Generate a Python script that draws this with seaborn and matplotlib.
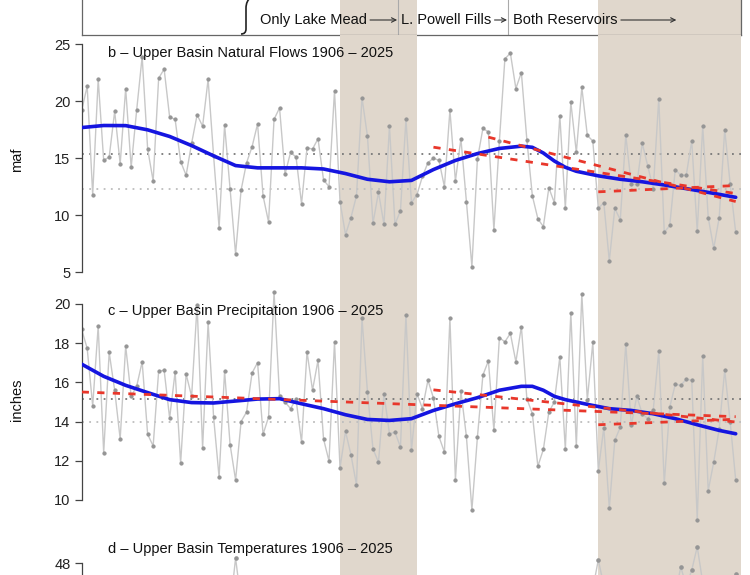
import numpy as np
import pandas as pd
import seaborn as sns
import matplotlib.pyplot as plt
from matplotlib.path import Path
from matplotlib.patches import PathPatch

# ---- data ----
years = np.arange(1906, 2026)

# b - Upper Basin natural flows (maf)
flows = [
    19.2, 21.3, 11.8, 21.9, 14.8, 15.1, 19.1, 14.5, 21.1, 14.2,
    19.2, 23.9, 15.8, 13.0, 22.0, 22.8, 18.6, 18.4, 14.7, 13.5,
    16.3, 18.8, 17.8, 21.9, 15.2, 8.9, 17.9, 12.3, 6.6, 12.2,
    14.6, 16.0, 18.0, 11.7, 9.4, 18.4, 19.4, 13.6, 15.5, 15.1,
    11.0, 15.9, 15.8, 16.7, 13.1, 12.5, 20.9, 11.2, 8.3, 9.8,
    11.7, 20.3, 16.9, 9.3, 12.0, 9.2, 17.8, 9.2, 10.4, 18.4,
    11.1, 11.8, 13.4, 14.6, 15.0, 14.8, 12.5, 19.2, 13.0, 16.7,
    11.2, 5.5, 14.9, 17.6, 17.3, 8.7, 16.5, 23.7, 24.2, 21.1,
    22.5, 16.6, 11.7, 9.7, 9.0, 12.4, 11.1, 18.7, 10.6, 19.9,
    15.5, 21.2, 17.0, 16.5, 10.6, 11.1, 6.0, 10.6, 9.6, 17.0,
    12.7, 12.7, 16.3, 14.3, 12.3, 20.2, 8.5, 9.1, 14.0, 13.5,
    13.5, 16.5, 8.6, 17.8, 9.8, 7.1, 9.8, 17.5, 12.7, 8.5,
]

# c - Upper Basin precipitation (inches)
precip = [
    18.70, 17.73, 14.80, 18.87, 12.41, 17.53, 15.6, 13.12, 17.85, 15.3,
    15.8, 17.05, 13.35, 12.76, 16.57, 16.62, 14.18, 16.54, 11.88, 16.42,
    15.29, 19.95, 12.65, 19.06, 14.23, 11.16, 16.57, 12.83, 11.02, 14.0,
    14.49, 16.48, 17.01, 13.35, 14.23, 20.6, 15.29, 15.0, 14.66, 15.14,
    12.95, 17.56, 15.6, 17.13, 13.12, 11.98, 18.07, 11.64, 13.5, 12.3,
    10.77, 19.27, 15.5, 12.61, 11.93, 15.43, 13.38, 13.46, 12.70, 19.44,
    12.53, 15.43, 14.66, 16.11, 15.2, 13.24, 12.44, 19.27, 11.02, 15.56,
    13.24, 9.5, 13.2, 16.37, 17.10, 13.55, 18.28, 18.07, 18.5, 17.05,
    18.84, 15.17, 14.4, 11.72, 12.58, 14.49, 15.0, 17.30, 12.58, 19.56,
    12.73, 20.51, 15.1, 18.04, 11.5, 13.69, 9.6, 13.04, 13.72, 17.95,
    13.81, 15.29, 14.40, 14.15, 14.6, 17.59, 10.85, 14.74, 15.9, 15.85,
    16.16, 16.11, 9.0, 17.35, 10.48, 11.93, 13.63, 16.62, 13.98, 11.02,
]

# smoothed curves (blue), read at selected years
smooth_b_years = [1906, 1910, 1914, 1918, 1922, 1926, 1930, 1934, 1938, 1942, 1946,
                  1950, 1954, 1958, 1962, 1966, 1970, 1974, 1978, 1982, 1986, 1988,
                  1990, 1992, 1994, 1996, 2000, 2004, 2008, 2012, 2016, 2020, 2025]
smooth_b = [17.68, 17.86, 17.85, 17.48, 16.9, 16.1, 15.2, 14.35, 14.15, 14.15, 14.15,
            14.05, 13.65, 13.15, 12.93, 13.05, 14.0, 14.8, 15.4, 15.85, 16.05, 15.95,
            15.45, 14.75, 14.2, 13.85, 13.45, 13.15, 12.93, 12.65, 12.33, 12.0, 11.57]

smooth_c_years = [1906, 1910, 1914, 1918, 1922, 1926, 1930, 1934, 1938, 1942, 1946,
                  1950, 1954, 1958, 1962, 1966, 1970, 1974, 1978, 1982, 1986, 1988,
                  1990, 1992, 1994, 1998, 2002, 2006, 2010, 2014, 2018, 2022, 2025]
smooth_c = [16.93, 16.31, 15.85, 15.48, 15.12, 14.97, 14.95, 15.05, 15.15, 15.17, 14.91,
            14.66, 14.35, 14.11, 14.06, 14.15, 14.57, 14.91, 15.22, 15.6, 15.8, 15.8,
            15.6, 15.29, 15.12, 14.88, 14.66, 14.57, 14.4, 14.15, 13.84, 13.55, 13.38]

# linear trends (red dashed): start year, value at start, value in 2025
trend_b_from = [1970, 1980, 2000]
trend_b_start = [15.96, 16.84, 12.05]
trend_b_end = [11.9, 11.2, 12.6]
trend_c_from = [1906, 1970, 2000]
trend_c_start = [15.51, 15.62, 13.84]
trend_c_end = [14.25, 13.98, 14.12]

# d - temperatures (only the tops that show in the crop)
temp_years = [1933, 1934, 1935, 1999, 2000, 2001, 2014, 2015, 2016, 2017, 2018, 2019, 2024, 2025]
temps = [46.6, 48.15, 46.8, 47.2, 48.1, 47.3, 47.0, 47.88, 47.3, 47.78, 48.5, 47.4, 47.2, 47.66]

drought_start = [1953, 2000]
drought_end = [1967, 2026]
recent_start = 2000

era_labels = ['Only Lake Mead', 'L. Powell Fills', 'Both Reservoirs']
era_text_x = [1938.4, 1964.1, 1984.5]
era_arrow_x = [1963.4, 1983.4, 2014.2]
era_breaks = [1963.5, 1983.5]

# ---- style ----
sns.set_style('white')
plt.rcParams['font.family'] = ['Liberation Sans', 'DejaVu Sans']
SHADE = '#e0d7cc'
GREY_LINE = '#c8c8c8'
GREY_PT = '#959595'
BLUE = '#1515e0'
RED = '#e8372b'
FS = 10.5

W, H = 750, 575
X0, X1 = 81.7, 741.2
fig = plt.figure(figsize=(W / 100, H / 100), dpi=100)


def axes_px(top, bottom):
    return fig.add_axes([X0 / W, 1 - bottom / H, (X1 - X0) / W, (bottom - top) / H])


def setup(ax, ylim, ticks, lo, hi):
    ax.set_xlim(1906, 2026)
    ax.set_ylim(*ylim)
    ax.patch.set_alpha(0)
    for a, b in zip(drought_start, drought_end):
        ax.axvspan(a, b, color=SHADE, lw=0, zorder=0)
    ax.set_xticks([])
    ax.set_yticks(ticks)
    ax.set_yticklabels([str(t) for t in ticks])
    for s in ['top', 'right', 'bottom']:
        ax.spines[s].set_visible(False)
    ax.spines['left'].set_bounds(lo, hi)
    ax.spines['left'].set_color('#444444')
    ax.spines['left'].set_linewidth(0.9)
    ax.tick_params(axis='y', direction='out', length=5, width=0.9, pad=3,
                   labelsize=FS, colors='#444444', labelcolor='#222222', left=True)


def series_panel(ax, vals, sm_x, sm_y, t_from, t_start, t_end, title, title_y):
    vals = np.asarray(vals)
    # pre-2000 mean (dark) and 2000-2025 mean (light)
    ax.axhline(vals[years < recent_start].mean(), color='#777777', lw=1.3,
               ls=(0, (1, 3)), zorder=1)
    ax.axhline(vals[years >= recent_start].mean(), color='#bdbdbd', lw=1.3,
               ls=(0, (1, 3)), zorder=1)
    sns.lineplot(x=years, y=vals, ax=ax, color=GREY_LINE, lw=1.0, marker='o',
                 markersize=2.3, markerfacecolor=GREY_PT, markeredgecolor=GREY_PT,
                 zorder=2)
    sns.lineplot(x=sm_x, y=sm_y, ax=ax, color=BLUE, lw=2.6, zorder=3)
    for s, v0, v1 in zip(t_from, t_start, t_end):
        sns.lineplot(x=[s, 2025], y=[v0, v1], ax=ax, color=RED, lw=2.0,
                     linestyle=(0, (2.6, 3.0)), zorder=4)
    ax.text(1910.8, title_y, title, transform=ax.get_xaxis_transform(),
            ha='left', va='center', fontsize=FS, color='#111111')
    ax.set_xlabel('')
    ax.set_ylabel('')


# ---- panel a (only its bottom strip is in view) ----
axa = axes_px(-60, 35)
axa.set_xlim(1906, 2026)
axa.set_ylim(0, 1)
for a, b in zip(drought_start, drought_end):
    axa.axvspan(a, b, color=SHADE, lw=0, zorder=0)
axa.set_xticks([])
axa.set_yticks([])
for s in axa.spines.values():
    s.set_color('#666666')
    s.set_linewidth(0.9)
for xb in era_breaks:
    axa.axvline(xb, color='#aaaaaa', lw=0.8, zorder=1)
ty = (35 - 20) / 95
for lab, tx, axx in zip(era_labels, era_text_x, era_arrow_x):
    axa.annotate(lab, xy=(axx, ty), xytext=(tx, ty), ha='left', va='center',
                 fontsize=FS, color='#111111', zorder=3,
                 arrowprops=dict(arrowstyle='->', color='#333333', lw=0.8,
                                 relpos=(1, 0.5), shrinkA=0, shrinkB=0,
                                 mutation_scale=8))


def fpx(x, y):
    return (x / W, 1 - y / H)


brace = Path([fpx(251, -3), fpx(246, 1), fpx(246, 8), fpx(246, 29),
              fpx(246, 34), fpx(241, 34)],
             [Path.MOVETO, Path.CURVE3, Path.CURVE3, Path.LINETO,
              Path.CURVE3, Path.CURVE3])
fig.add_artist(PathPatch(brace, transform=fig.transFigure, fill=False,
                         lw=1.2, edgecolor='#222222'))

# ---- panel b ----
axb = axes_px(35, 288)
setup(axb, (25 - 244 / 11.415, 25 + 9 / 11.415), [5, 10, 15, 20, 25], 5, 25)
series_panel(axb, flows, smooth_b_years, smooth_b,
             trend_b_from, trend_b_start, trend_b_end,
             'b \u2013 Upper Basin Natural Flows 1906 \u2013 2025', 1 - 18 / 253)

# ---- panel c ----
axc = axes_px(288, 525)
setup(axc, (20 - 221 / 19.6, 20 + 16 / 19.6), [10, 12, 14, 16, 18, 20], 10, 20)
series_panel(axc, precip, smooth_c_years, smooth_c,
             trend_c_from, trend_c_start, trend_c_end,
             'c \u2013 Upper Basin Precipitation 1906 \u2013 2025', 1 - 23 / 237)

# ---- panel d (cropped) ----
axd = axes_px(525, 575)
d_lo, d_hi = 48 - 12 / 32.5, 48 + 38 / 32.5
setup(axd, (d_lo, d_hi), [48], d_lo, 48)
tser = pd.Series(temps, index=temp_years).reindex(years)
axd.plot(years, tser.values, color=GREY_LINE, lw=1.0, marker='o', markersize=2.3,
         markerfacecolor=GREY_PT, markeredgecolor=GREY_PT, zorder=2)
axd.text(1910.8, 1 - 24 / 50, 'd \u2013 Upper Basin Temperatures 1906 \u2013 2025',
         transform=axd.get_xaxis_transform(), ha='left', va='center',
         fontsize=FS, color='#111111')

# ---- y labels ----
fig.text(17 / W, 1 - 160 / H, 'maf', rotation=90, ha='center', va='center',
         fontsize=FS, color='#111111')
fig.text(17 / W, 1 - 400 / H, 'inches', rotation=90, ha='center', va='center',
         fontsize=FS, color='#111111')

fig.savefig('out.png', dpi=100)
